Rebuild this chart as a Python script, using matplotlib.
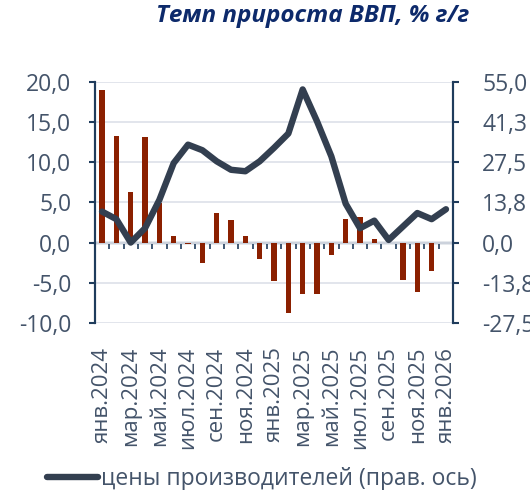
import numpy as np
from matplotlib import pyplot as plt
from matplotlib.lines import Line2D

# данные
months = ["янв.2024", "фев.2024", "мар.2024", "апр.2024", "май.2024", "июн.2024",
          "июл.2024", "авг.2024", "сен.2024", "окт.2024", "ноя.2024", "дек.2024",
          "янв.2025", "фев.2025", "мар.2025", "апр.2025", "май.2025", "июн.2025",
          "июл.2025", "авг.2025", "сен.2025", "окт.2025", "ноя.2025", "дек.2025",
          "янв.2026"]
gdp = [19.0, 13.3, 6.3, 13.1, 4.9, 0.8, -0.2, -2.6, 3.7, 2.8, 0.8, -2.1,
       -4.8, -8.8, -6.4, -6.4, -1.6, 2.9, 3.2, 0.5, 0.0, -4.6, -6.2, -3.5, np.nan]
ppi = [10.6, 8.0, 0.0, 4.9, 14.6, 27.2, 33.5, 31.6, 27.8, 24.9, 24.4, 27.8,
       32.4, 37.3, 52.4, 41.5, 29.5, 13.3, 4.9, 7.5, 0.9, 5.5, 10.1, 8.0, 11.4]
left_ticks = [-10, -5, 0, 5, 10, 15, 20]
left_labels = ["-10,0", "-5,0", "0,0", "5,0", "10,0", "15,0", "20,0"]
right_ticks = [-27.5, -13.75, 0, 13.75, 27.5, 41.25, 55]
right_labels = ["-27,5", "-13,8", "0,0", "13,8", "27,5", "41,3", "55,0"]

plt.rcParams['font.family'] = ['Open Sans', 'DejaVu Sans']

txt_color = "#44546a"
spine_color = "#1f3c5c"
fs = 16.5

fig = plt.figure(figsize=(5.3, 4.9), dpi=100)
ax = fig.add_axes([0.179, 0.341, 0.676, 0.492])
ax2 = ax.twinx()

x = np.arange(len(months))
ax.bar(x, gdp, width=0.38, color="#8b2000", zorder=2)
ax2.plot(x, ppi, color="#333f50", linewidth=4.6, solid_capstyle="round",
         solid_joinstyle="round", zorder=3)

ax.set_xlim(-0.5, len(months) - 0.5)
ax.set_ylim(-10, 20)
ax2.set_ylim(-27.5, 55)

ax.set_yticks(left_ticks)
ax.set_yticklabels(left_labels)
ax2.set_yticks(right_ticks)
ax2.set_yticklabels(right_labels)
ax.grid(axis="y", color="#dfe3ea", linewidth=1.3, zorder=0)

# подписи по оси X: каждый второй месяц, внизу графика
ax.set_xticks(x[::2])
ax.set_xticklabels(months[::2])
ax.tick_params(axis="x", length=0, pad=17, labelsize=16, labelcolor=txt_color,
               labelrotation=90)

# нулевая линия с засечками между месяцами
sec = ax.secondary_xaxis(1 / 3)
sec.set_xticks(np.arange(-0.5, len(months), 1))
sec.set_xticklabels([])
sec.tick_params(axis="x", length=4, width=1.2, color=spine_color, direction="out")
sec.spines["bottom"].set_color(spine_color)
sec.spines["bottom"].set_linewidth(1.6)

ax.tick_params(axis="y", length=4, width=1.5, color=spine_color, labelsize=fs,
               labelcolor=txt_color, pad=13)
ax2.tick_params(axis="y", length=4, width=1.5, color=spine_color, labelsize=fs,
                labelcolor=txt_color, pad=17)

for a in (ax, ax2):
    a.spines["top"].set_visible(False)
    a.spines["bottom"].set_visible(False)
    a.spines["left"].set_color(spine_color)
    a.spines["right"].set_color(spine_color)
    a.spines["left"].set_linewidth(1.5)
    a.spines["right"].set_linewidth(1.5)

# линию поверх столбцов
ax.patch.set_visible(False)
ax2.set_zorder(ax.get_zorder() + 1)
ax2.patch.set_visible(False)

fig.text(0.885, 0.968, "Темп прироста ВВП, % г/г", ha="right", va="center",
         fontsize=17.5, fontweight="bold", fontstyle="italic", color="#0d2a6b")

handle = Line2D([], [], color="#333f50", linewidth=4.6, solid_capstyle="round")
fig.legend([handle], ["цены производителей (прав. ось)"], loc="lower left",
           bbox_to_anchor=(0.05, -0.045), frameon=False, fontsize=fs,
           labelcolor=txt_color, handlelength=2.2, handletextpad=0.15)

fig.savefig("out.png", dpi=100)
